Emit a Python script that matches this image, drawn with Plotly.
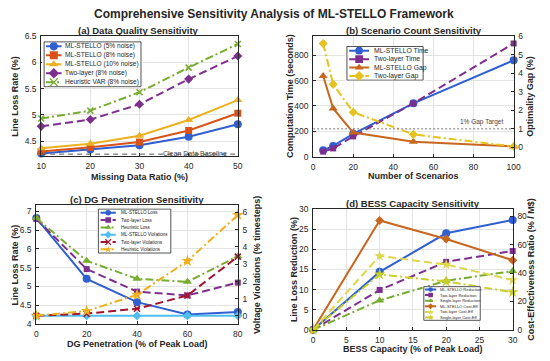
import plotly.graph_objects as go

FONT = "Liberation Sans, Arial, sans-serif"
AXC = "#262626"
GRID = "#E3E3E3"

# (a) data quality sensitivity
miss_ratio = [10, 20, 30, 40, 50]
loss_ml_5 = [4.26, 4.34, 4.42, 4.58, 4.82]
loss_ml_8 = [4.30, 4.38, 4.48, 4.70, 5.03]
loss_ml_10 = [4.36, 4.45, 4.60, 4.90, 5.28]
loss_two_8 = [4.78, 4.91, 5.20, 5.68, 6.12]
loss_var_8 = [4.93, 5.08, 5.43, 5.90, 6.35]
clean_baseline = 4.25

# (b) scenario count sensitivity
n_scen = [5, 10, 20, 50, 100]
time_ml = [50, 85, 180, 420, 760]
time_two = [40, 65, 160, 420, 892]
gap_ml = [3.85, 2.1, 0.8, 0.3, 0.05]
gap_two = [5.6, 3.4, 1.9, 0.7, 0.05]
gap_target = 1

# (c) DG penetration sensitivity
dg_pen = [0, 20, 40, 60, 80]
dg_loss_ml = [6.82, 5.2, 4.58, 4.25, 4.32]
dg_loss_two = [6.8, 5.46, 4.86, 4.76, 5.1]
dg_loss_heu = [6.82, 5.68, 5.2, 5.12, 5.8]
viol_ml = [0, 0, 0, 0, 0]
viol_two = [0, 0.13, 0.41, 1.18, 3.43]
viol_heu = [0, 0.28, 1.22, 3.18, 5.85]

# (d) BESS capacity sensitivity
bess_cap = [0, 10, 20, 30]
red_ml = [0, 14.4, 24.0, 27.3]
red_two = [0, 9.9, 16.9, 19.6]
red_single = [0, 7.3, 12.2, 14.6]
ce_ml = [0, 77, 64, 49]
ce_two = [0, 52, 46, 35]
ce_single = [0, 39, 34, 26.5]

BLUE = "#2F5FD0"
ORANGE = "#D95319"
YELLOW = "#EDB120"
PURPLE = "#7E2F8E"
GREEN = "#77AC30"
BROWN = "#C8661E"
LBLUE = "#4DBEEE"
DRED = "#A2142F"
LIME = "#C9CF2A"

DASH = "8px,4px"
DASHDOT = "8px,3px,2px,3px"

fig = go.Figure()


def series(x, y, name, color, dash, symbol, xa, ya, size=7, width=2):
    mline = dict(width=1.6, color=color) if symbol == "x-thin" else dict(width=0)
    fig.add_trace(go.Scatter(
        x=x, y=y, name=name, mode="lines+markers", cliponaxis=False,
        line=dict(color=color, dash=dash, width=width),
        marker=dict(symbol=symbol, size=size, color=color, line=mline),
        xaxis=xa, yaxis=ya, showlegend=False))
    return (name, color, dash, symbol, width)


leg_a = [
    series(miss_ratio, loss_ml_5, "ML-STELLO (5% noise)", BLUE, "solid", "circle", "x", "y", 8),
    series(miss_ratio, loss_ml_8, "ML-STELLO (8% noise)", ORANGE, "solid", "square", "x", "y", 7),
    series(miss_ratio, loss_ml_10, "ML-STELLO (10% noise)", YELLOW, "solid", "triangle-up", "x", "y", 8),
    series(miss_ratio, loss_two_8, "Two-layer (8% noise)", PURPLE, DASH, "diamond", "x", "y", 7),
    series(miss_ratio, loss_var_8, "Heuristic VAR (8% noise)", GREEN, DASHDOT, "x-thin", "x", "y", 6),
]
fig.add_trace(go.Scatter(x=[miss_ratio[0], miss_ratio[-1]], y=[clean_baseline] * 2, mode="lines",
                         line=dict(color="#555555", width=1, dash="5px,4px"),
                         xaxis="x", yaxis="y", showlegend=False))

leg_b = [
    series(n_scen, time_ml, "ML-STELLO Time", BLUE, "solid", "circle", "x2", "y2", 8),
    series(n_scen, time_two, "Two-layer Time", PURPLE, DASH, "square", "x2", "y2", 6),
    series(n_scen, gap_ml, "ML-STELLO Gap", BROWN, "solid", "triangle-up", "x2", "y3", 8),
    series(n_scen, gap_two, "Two-layer Gap", "#E6C21E", DASHDOT, "diamond", "x2", "y3", 7),
]
fig.add_trace(go.Scatter(x=[0, 100], y=[gap_target] * 2, mode="lines",
                         line=dict(color="#777777", width=1, dash="2px,2px"),
                         xaxis="x2", yaxis="y3", showlegend=False))

leg_c = [
    series(dg_pen, dg_loss_ml, "ML-STELLO Loss", BLUE, "solid", "circle", "x3", "y4", 8),
    series(dg_pen, dg_loss_two, "Two-layer Loss", PURPLE, DASH, "square", "x3", "y4", 6),
    series(dg_pen, dg_loss_heu, "Heuristic Loss", GREEN, DASHDOT, "triangle-up", "x3", "y4", 8),
    series(dg_pen, viol_ml, "ML-STELLO Violations", LBLUE, "solid", "diamond", "x3", "y5", 7),
    series(dg_pen, viol_two, "Two-layer Violations", DRED, DASH, "x-thin", "x3", "y5", 6),
    series(dg_pen, viol_heu, "Heuristic Violations", YELLOW, DASHDOT, "star", "x3", "y5", 9),
]

leg_d = [
    series(bess_cap, red_ml, "ML-STELLO Reduction", BLUE, "solid", "circle", "x4", "y6", 8),
    series(bess_cap, red_two, "Two-layer Reduction", PURPLE, DASH, "square", "x4", "y6", 6),
    series(bess_cap, red_single, "Single-layer Reduction", GREEN, DASHDOT, "triangle-up", "x4", "y6", 8),
    series(bess_cap, ce_ml, "ML-STELLO Cost-Eff", BROWN, "solid", "diamond", "x4", "y7", 7),
    series(bess_cap, ce_two, "Two-layer Cost-Eff", "#DCD84A", DASH, "star", "x4", "y7", 8),
    series(bess_cap, ce_single, "Single-layer Cost-Eff", LIME, DASHDOT, "star", "x4", "y7", 9),
]


def axis(domain, rng, dtick, grid=True, **kw):
    d = dict(domain=domain, range=rng, dtick=dtick, showgrid=grid, gridcolor=GRID, gridwidth=1,
             showline=True, linecolor=AXC, linewidth=1, ticks="inside", ticklen=3, tickcolor=AXC,
             tickfont=dict(size=8.5, color=AXC, family=FONT), zeroline=False, ticklabelstandoff=2)
    d.update(kw)
    return d


ya_a = [1 - 155 / 361, 1 - 32 / 361]
ya_b = [1 - 156 / 361, 1 - 32 / 361]
ya_c = [1 - 328 / 361, 1 - 206 / 361]
ya_d = [1 - 334 / 361, 1 - 210 / 361]
xa_a = [37 / 550, 238 / 550]
xa_b = [315 / 550, 520 / 550]
xa_c = [32 / 550, 238 / 550]
xa_d = [315 / 550, 519 / 550]

layout = dict(
    xaxis=axis(xa_a, [10, 50], 10, anchor="y", mirror=True),
    yaxis=axis(ya_a, [4.22, 6.5], 0.5, anchor="x", mirror=True),
    xaxis2=axis(xa_b, [0, 100], 20, anchor="y2", mirror=True),
    yaxis2=axis(ya_b, [0, 950], 200, anchor="x2"),
    yaxis3=axis(ya_b, [-0.5, 6], 1, grid=False, anchor="x2", overlaying="y2", side="right"),
    xaxis3=axis(xa_c, [0, 80], 20, anchor="y4", mirror=True),
    yaxis4=axis(ya_c, [4, 7.16], 0.5, anchor="x3"),
    yaxis5=axis(ya_c, [-0.47, 6.41], 1, grid=False, anchor="x3", overlaying="y4", side="right"),
    xaxis4=axis(xa_d, [0, 30], 5, anchor="y6", mirror=True),
    yaxis6=axis(ya_d, [0, 30], 5, anchor="x4"),
    yaxis7=axis(ya_d, [0, 85], 20, grid=False, anchor="x4", overlaying="y6", side="right"),
)

annotations = []


def text(x, y, s, size, bold=False, xref="paper", yref="paper", xanchor="center",
         yanchor="middle", angle=0, color=AXC):
    annotations.append(dict(x=x, y=y, xref=xref, yref=yref, text=f"<b>{s}</b>" if bold else s,
                            showarrow=False, xanchor=xanchor, yanchor=yanchor, textangle=angle,
                            font=dict(family=FONT, size=size, color=color)))


def legend_box(nx, ny, box, items, fsize, xl, xt, mscale):
    layout[f"xaxis{nx}"] = dict(domain=box[:2], range=[-0.02, 1.02], visible=False,
                                anchor=f"y{ny}", fixedrange=True)
    layout[f"yaxis{ny}"] = dict(domain=box[2:], range=[-0.02, 1.02], visible=False,
                                anchor=f"x{nx}", fixedrange=True)
    fig.add_trace(go.Scatter(x=[0, 1, 1, 0, 0], y=[0, 0, 1, 1, 0], fill="toself", fillcolor="white",
                             mode="lines", line=dict(color=AXC, width=0.8), hoverinfo="skip",
                             xaxis=f"x{nx}", yaxis=f"y{ny}", showlegend=False))
    k = len(items)
    for i, (name, color, dash, symbol, width) in enumerate(items):
        yy = 1 - (i + 0.5) / k
        fig.add_trace(go.Scatter(x=[xl[0], xl[1]], y=[yy, yy], mode="lines",
                                 line=dict(color=color, dash=dash, width=width), hoverinfo="skip",
                                 xaxis=f"x{nx}", yaxis=f"y{ny}", showlegend=False))
        mline = dict(width=1.2, color=color) if symbol == "x-thin" else dict(width=0)
        fig.add_trace(go.Scatter(x=[(xl[0] + xl[1]) / 2], y=[yy], mode="markers",
                                 marker=dict(symbol=symbol, size=7 * mscale, color=color, line=mline),
                                 hoverinfo="skip", xaxis=f"x{nx}", yaxis=f"y{ny}", showlegend=False))
        text(xt, yy, name, fsize, xref=f"x{nx}", yref=f"y{ny}", xanchor="left")


legend_box(5, 8, [38 / 550, 141 / 550, 1 - 85 / 361, 1 - 37 / 361], leg_a, 6.6, (0.02, 0.18), 0.2, 1.15)
legend_box(6, 9, [348 / 550, 429 / 550, 1 - 78 / 361, 1 - 42 / 361], leg_b, 6.8, (0.03, 0.29), 0.33, 1.1)
legend_box(7, 10, [94 / 550, 171 / 550, 1 - 256 / 361, 1 - 209 / 361], leg_c, 4.6, (0.03, 0.24), 0.28, 0.8)
legend_box(8, 11, [427 / 550, 487 / 550, 1 - 325 / 361, 1 - 289 / 361], leg_d, 4.0, (0.02, 0.22), 0.25, 0.65)

# titles
text(0.5, 1 - 9 / 361, "Comprehensive Sensitivity Analysis of ML-STELLO Framework", 12, True)
text(136 / 550, 1 - 26 / 361, "(a) Data Quality Sensitivity", 9.5, True)
text(418 / 550, 1 - 26 / 361, "(b) Scenario Count Sensitivity", 9.5, True)
text(135 / 550, 1 - 200 / 361, "(c) DG Penetration Sensitivity", 9.5, True)
text(417 / 550, 1 - 204 / 361, "(d) BESS Capacity Sensitivity", 9.5, True)

# axis titles
TS = 9
text(137 / 550, 1 - 177 / 361, "Missing Data Ratio (%)", TS, True)
text(10 / 550, 1 - 93.5 / 361, "Line Loss Rate (%)", TS, True, angle=-90)
text(418 / 550, 1 - 176 / 361, "Number of Scenarios", TS, True)
text(292 / 550, 1 - 94 / 361, "Computation Time (seconds)", TS, True, angle=-90)
text(537 / 550, 1 - 94 / 361, "Optimality Gap (%)", TS, True, angle=-90)
text(135 / 550, 1 - 349 / 361, "DG Penetration (% of Peak Load)", TS, True)
text(10 / 550, 1 - 267 / 361, "Line Loss Rate (%)", TS, True, angle=-90)
text(257 / 550, 1 - 267 / 361, "Voltage Violations (% timesteps)", TS, True, angle=-90)
text(417 / 550, 1 - 354 / 361, "BESS Capacity (% of Peak Load)", TS, True)
text(296 / 550, 1 - 272 / 361, "Line Loss Reduction (%)", TS, True, angle=-90)
text(538 / 550, 1 - 272 / 361, "Cost-Effectiveness Ratio (% / M$)", TS, True, angle=-90)

# reference line labels
text(48.2, clean_baseline + 0.02, "Clean Data Baseline", 7, xref="x", yref="y", xanchor="right",
     yanchor="middle", color="#444444")
text(95.5, gap_target + 0.05, "1% Gap Target", 6.5, xref="x2", yref="y3", xanchor="right",
     yanchor="bottom", color="#444444")

fig.update_layout(
    width=550, height=361, margin=dict(l=0, r=0, t=0, b=0),
    paper_bgcolor="white", plot_bgcolor="white",
    font=dict(family=FONT, color=AXC), showlegend=False,
    annotations=annotations, **layout)

# drop the page's default body margin so the figure sits at the window's top-left corner
fig.write_html("out.html", config={"displayModeBar": False},
               post_script="document.body.style.margin = '0px';")
